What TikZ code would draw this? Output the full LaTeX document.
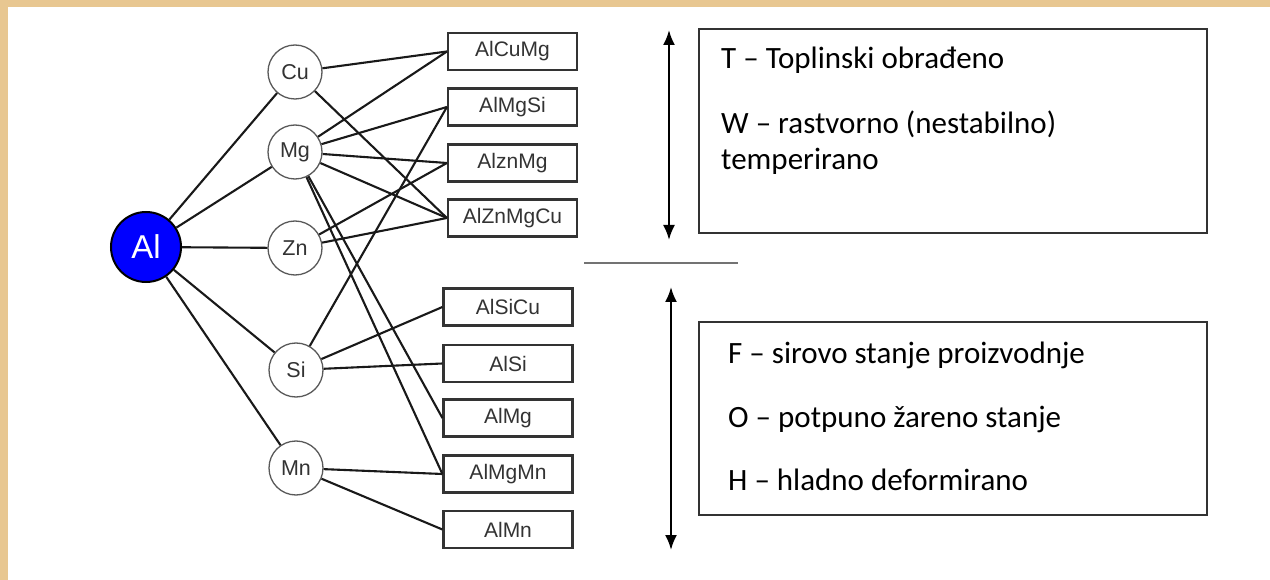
\documentclass[tikz,border=0pt]{standalone}
\usepackage{fontspec}
\setmainfont{Liberation Sans}
\newfontfamily\notefont{Carlito}
\usetikzlibrary{arrows.meta}
\definecolor{paperbeige}{HTML}{E8C791}
\definecolor{alblue}{HTML}{0000FF}
\definecolor{inkgray}{HTML}{333333}

\begin{document}
\begin{tikzpicture}[x=1pt,y=-1pt,
    elem/.style={circle,draw=black!65,line width=1.3pt,fill=white,minimum size=54pt,inner sep=0pt,text=inkgray,font=\fontsize{21.5}{24}\selectfont},
    alloy/.style={draw=inkgray,line width=2.2pt,fill=white,minimum width=129pt,minimum height=37pt,inner sep=0pt,text=inkgray,font=\fontsize{21}{24}\selectfont},
    link/.style={line width=2.1pt,black!90},
    notebox/.style={draw=inkgray,line width=2pt},
    note/.style={anchor=base west,inner sep=0pt,font=\notefont\fontsize{31}{36}\selectfont},
    span/.style={{Latex[length=15pt,width=12pt]}-{Latex[length=15pt,width=12pt]},line width=2.2pt}]
    \useasboundingbox (0,0) rectangle (1270,580);
    \fill[paperbeige] (0,0) rectangle (1270,580);
    \fill[white] (8,7) rectangle (1270,580);

    % base metal and alloying elements
    \node[circle,draw=black,line width=2pt,fill=alblue,minimum size=70pt,inner sep=0pt,text=white,font=\fontsize{33}{36}\selectfont] (al) at (146,247) {Al};
    \node[elem] (cu) at (295,72) {Cu};
    \node[elem] (mg) at (295,152) {Mg};
    \node[elem] (zn) at (295,248) {Zn};
    \node[elem] (si) at (296,370) {Si};
    \node[elem] (mn) at (296,468) {Mn};

    % alloy groups
    \node[alloy] (alcumg) at (512.5,51.5) {AlCuMg};
    \node[alloy] (almgsi) at (512.5,107) {AlMgSi};
    \node[alloy] (alznmg) at (512.5,163) {AlznMg};
    \node[alloy] (alznmgcu) at (512.5,218) {AlZnMgCu};
    \node[alloy] (alsicu) at (508,307) {AlSiCu};
    \node[alloy] (alsi) at (508,363.5) {AlSi};
    \node[alloy] (almg) at (508,418) {AlMg};
    \node[alloy] (almgmn) at (508,474) {AlMgMn};
    \node[alloy] (almn) at (508,529.5) {AlMn};

    \draw[link] (al) -- (cu);
    \draw[link] (al) -- (mg);
    \draw[link] (al) -- (zn);
    \draw[link] (al) -- (si);
    \draw[link] (al) -- (mn);

    \draw[link] (cu) -- (alcumg.west);
    \draw[link] (cu) -- (alznmgcu.west);
    \draw[link] (mg) -- (alcumg.west);
    \draw[link] (mg) -- (almgsi.west);
    \draw[link] (mg) -- (alznmg.west);
    \draw[link] (mg) -- (alznmgcu.west);
    \draw[link] (mg) -- (almg.west);
    \draw[link] (mg) -- (almgmn.west);
    \draw[link] (zn) -- (alznmg.west);
    \draw[link] (zn) -- (alznmgcu.west);
    \draw[link] (si) -- (almgsi.west);
    \draw[link] (si) -- (alsicu.west);
    \draw[link] (si) -- (alsi.west);
    \draw[link] (mn) -- (almgmn.west);
    \draw[link] (mn) -- (almn.west);

    % tempers
    \coordinate (sepl) at (584,263);
    \coordinate (sepr) at (738,263);
    \draw[line width=2.2pt,black!55] (sepl) -- (sepr);

    \coordinate (upa) at (669,30);
    \coordinate (upb) at (669,240);
    \draw[span] (upa) -- (upb);
    \coordinate (loa) at (671,287);
    \coordinate (lob) at (671,550);
    \draw[span] (loa) -- (lob);

    \draw[notebox] (699,29) rectangle (1207,233);
    \node[note] (tmp) at (721,69) {T – Toplinski obrađeno};
    \node[note] (wsol) at (721,134) {W – rastvorno (nestabilno)};
    \node[note] (wtmp) at (721,170) {temperirano};

    \draw[notebox] (699,322) rectangle (1207,515);
    \node[note] (fab) at (728,363) {F – sirovo stanje proizvodnje};
    \node[note] (ann) at (728,427) {O – potpuno žareno stanje};
    \node[note] (cold) at (728,490) {H – hladno deformirano};
\end{tikzpicture}
\end{document}
